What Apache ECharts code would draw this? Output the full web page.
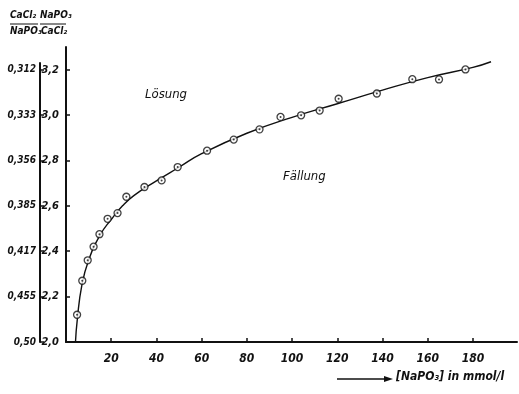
<!DOCTYPE html>
<html>
<head>
<meta charset="utf-8">
<script src="https://cdn.jsdelivr.net/npm/echarts@6/dist/echarts.min.js"></script>
<style>
html, body { margin: 0; padding: 0; background: #fff; }
#main { width: 519px; height: 394px; }
</style>
</head>
<body>
<div id="main"></div>
<script>
// measured points (open circles)
var pointsX = [4.9, 7.2, 9.6, 12.2, 14.8, 18.4, 22.8, 26.7, 34.7, 42.3, 49.4, 62.4, 74.2, 85.6, 94.9, 104.0, 112.2, 120.6, 137.5, 153.2, 165.0, 176.7];
var pointsY = [2.12, 2.27, 2.36, 2.42, 2.475, 2.543, 2.568, 2.64, 2.683, 2.712, 2.771, 2.843, 2.892, 2.937, 2.992, 2.999, 3.02, 3.072, 3.095, 3.158, 3.157, 3.201];
// drawn curve
var curveX = [4.2, 5, 7, 10, 15, 20, 25, 30, 40, 50, 60, 80, 100, 120, 140, 160, 180, 188];
var curveY = [2.0, 2.1, 2.25, 2.36, 2.47, 2.54, 2.60, 2.645, 2.71, 2.77, 2.83, 2.92, 2.99, 3.05, 3.11, 3.165, 3.21, 3.235];
var xTicks = [20, 40, 60, 80, 100, 120, 140, 160, 180];
var yTicks = [2.0, 2.2, 2.4, 2.6, 2.8, 3.0, 3.2];
var yTickLabels = ['2,0', '2,2', '2,4', '2,6', '2,8', '3,0', '3,2'];
var ratioLabels = ['0,50', '0,455', '0,417', '0,385', '0,356', '0,333', '0,312'];

var FONT = "'DejaVu Sans Condensed', 'Liberation Sans Narrow', sans-serif";

function pairs(xs, ys) {
    return xs.map(function(x, i) {
        return [x, ys[i]];
    });
}

function tickIndex(v) {
    return Math.round((v - 2.0) / 0.2);
}

function labelStyle(size) {
    return {fontFamily: FONT, fontStyle: 'italic', fontWeight: 'bold', fontSize: size, color: '#111'};
}

var myChart = echarts.init(document.getElementById('main'));
myChart.setOption({
    backgroundColor: '#fff',
    animation: false,
    grid: [
        {left: 66, right: 2, top: 47, bottom: 52},
        {left: 40, width: 1, top: 63, bottom: 52}
    ],
    xAxis: [{
        type: 'value', min: 0, max: 199.5,
        axisLine: {lineStyle: {color: '#111', width: 2}},
        axisTick: {inside: true, length: 4, customValues: xTicks, lineStyle: {color: '#111', width: 1.5}},
        axisLabel: Object.assign({margin: 11, customValues: xTicks}, labelStyle(12)),
        splitLine: {show: false}
    }, {
        type: 'value', gridIndex: 1, show: false
    }],
    yAxis: [{
        type: 'value', min: 2.0, max: 3.3,
        axisLine: {show: true, lineStyle: {color: '#111', width: 2}},
        axisTick: {inside: true, length: 4, customValues: yTicks, lineStyle: {color: '#111', width: 1.5}},
        axisLabel: Object.assign({
            margin: 7, customValues: yTicks,
            formatter: function(v) { return yTickLabels[tickIndex(v)]; }
        }, labelStyle(11)),
        splitLine: {show: false}
    }, {
        type: 'value', gridIndex: 1, min: 2.0, max: 3.229,
        axisLine: {show: true, lineStyle: {color: '#111', width: 2}},
        axisTick: {inside: true, length: 4, customValues: yTicks, lineStyle: {color: '#111', width: 1.5}},
        axisLabel: Object.assign({
            margin: 4, customValues: yTicks,
            formatter: function(v) { return ratioLabels[tickIndex(v)]; }
        }, labelStyle(10)),
        splitLine: {show: false}
    }],
    series: [{
        type: 'line',
        data: pairs(curveX, curveY),
        smooth: true,
        showSymbol: false,
        lineStyle: {color: '#111', width: 1.4}
    }, {
        type: 'scatter',
        data: pairs(pointsX, pointsY),
        symbol: 'circle',
        symbolSize: 7,
        itemStyle: {color: '#fff', borderColor: '#111', borderWidth: 1.3},
        z: 3
    }, {
        type: 'scatter',
        data: pairs(pointsX, pointsY),
        symbolSize: 2,
        itemStyle: {color: '#111'},
        z: 4
    }],
    graphic: [
        // header fractions
        {type: 'text', left: 10, top: 10, style: {text: 'CaCl₂', font: 'italic bold 10px ' + FONT, fill: '#111'}},
        {type: 'line', shape: {x1: 10, y1: 24, x2: 38, y2: 24}, style: {stroke: '#111', lineWidth: 1}},
        {type: 'text', left: 10, top: 26, style: {text: 'NaPO₃', font: 'italic bold 10px ' + FONT, fill: '#111'}},
        {type: 'text', left: 40, top: 10, style: {text: 'NaPO₃', font: 'italic bold 10px ' + FONT, fill: '#111'}},
        {type: 'line', shape: {x1: 40, y1: 24, x2: 66, y2: 24}, style: {stroke: '#111', lineWidth: 1}},
        {type: 'text', left: 41, top: 26, style: {text: 'CaCl₂', font: 'italic bold 10px ' + FONT, fill: '#111'}},
        // region labels
        {type: 'text', left: 145, top: 88, style: {text: 'Lösung', font: 'italic 13px ' + FONT, fill: '#111'}},
        {type: 'text', left: 283, top: 170, style: {text: 'Fällung', font: 'italic 13px ' + FONT, fill: '#111'}},
        // axis name with arrow
        {type: 'line', shape: {x1: 337, y1: 379, x2: 386, y2: 379}, style: {stroke: '#111', lineWidth: 1.3}},
        {type: 'polygon', shape: {points: [[393, 379], [384, 376], [384, 382]]}, style: {fill: '#111'}},
        {type: 'text', left: 396, top: 371, style: {text: '[NaPO₃] in mmol/l', font: 'italic bold 12px ' + FONT, fill: '#111'}}
    ]
});
</script>
</body>
</html>
